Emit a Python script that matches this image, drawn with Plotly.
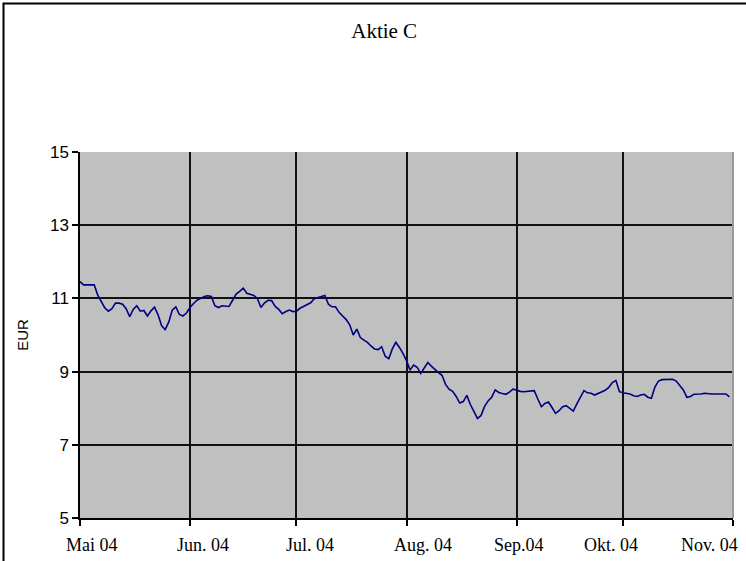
import pandas as pd
import plotly.graph_objects as go

# Daily closing prices of "Aktie C", 1 May - 31 Oct 2004 (EUR)
start_date = "2004-05-01"
price_may = [11.46, 11.37, 11.37, 11.37, 11.37, 11.09, 10.93, 10.74, 10.65, 10.72,
             10.87, 10.87, 10.84, 10.72, 10.50, 10.70, 10.80, 10.65, 10.67, 10.52,
             10.66, 10.76, 10.55, 10.25, 10.15, 10.35, 10.68, 10.77, 10.56, 10.52,
             10.60]
price_jun = [10.75, 10.86, 10.95, 11.00, 11.05, 11.07, 11.05, 10.80, 10.75, 10.80,
             10.80, 10.78, 10.95, 11.12, 11.19, 11.28, 11.14, 11.12, 11.08, 10.99,
             10.75, 10.88, 10.95, 10.94, 10.78, 10.70, 10.58, 10.64, 10.68, 10.64]
price_jul = [10.65, 10.73, 10.78, 10.83, 10.88, 10.99, 11.02, 11.05, 11.08, 10.84,
             10.77, 10.77, 10.62, 10.52, 10.42, 10.28, 10.00, 10.16, 9.93, 9.86,
             9.80, 9.70, 9.62, 9.60, 9.68, 9.42, 9.35, 9.62, 9.80, 9.66,
             9.50]
price_aug = [9.30, 9.04, 9.18, 9.12, 8.95, 9.12, 9.25, 9.15, 9.05, 8.97,
             8.90, 8.65, 8.52, 8.46, 8.32, 8.14, 8.18, 8.35, 8.10, 7.90,
             7.72, 7.80, 8.05, 8.20, 8.30, 8.50, 8.43, 8.40, 8.38, 8.44,
             8.52]
price_sep = [8.50, 8.46, 8.45, 8.46, 8.48, 8.48, 8.25, 8.04, 8.13, 8.17,
             8.02, 7.86, 7.93, 8.04, 8.07, 8.00, 7.92, 8.12, 8.32, 8.48,
             8.42, 8.41, 8.36, 8.40, 8.46, 8.49, 8.57, 8.70, 8.76, 8.45]
price_oct = [8.42, 8.40, 8.39, 8.34, 8.32, 8.36, 8.38, 8.30, 8.27, 8.58,
             8.74, 8.78, 8.79, 8.79, 8.79, 8.74, 8.62, 8.50, 8.30, 8.32,
             8.38, 8.38, 8.39, 8.41, 8.39, 8.39, 8.39, 8.39, 8.39, 8.39,
             8.31]

month_ticks = ["2004-05-01", "2004-06-01", "2004-07-01", "2004-08-01",
               "2004-09-01", "2004-10-01", "2004-11-01"]
month_labels = ["Mai 04", "Jun. 04", "Jul. 04", "Aug. 04", "Sep.04", "Okt. 04", "Nov. 04"]
y_ticks = [5, 7, 9, 11, 13, 15]

prices = price_may + price_jun + price_jul + price_aug + price_sep + price_oct
dates = pd.date_range(start_date, periods=len(prices), freq="D")

fig = go.Figure()
fig.add_trace(go.Scatter(
    x=dates, y=prices, mode="lines",
    line=dict(color="#000080", width=1.6),
    showlegend=False,
))

# month labels sit slightly off their tick marks, spreading to fit the width
label_shift = [12, 13, 14, 16, 2, -12, -24]
month_annotations = [
    dict(x=tick, y=0, xref="x", yref="paper", text=label,
         showarrow=False, xanchor="center", yanchor="top",
         xshift=shift, yshift=-15,
         font=dict(family="Liberation Serif", size=18, color="black"))
    for tick, label, shift in zip(month_ticks, month_labels, label_shift)
]

fig.update_layout(
    width=746, height=561,
    margin=dict(l=80, r=13, t=152, b=43),
    paper_bgcolor="white",
    plot_bgcolor="#C0C0C0",
    title=dict(
        text="Aktie C",
        x=0.515, xref="container", xanchor="center",
        y=1 - 31 / 561, yref="container", yanchor="middle",
        font=dict(family="Liberation Serif", size=21, color="black"),
    ),
    xaxis=dict(
        type="date",
        range=["2004-05-01", "2004-11-01"],
        tickmode="array", tickvals=month_ticks,
        showticklabels=False,
        ticks="outside", ticklen=6, tickwidth=1.5, tickcolor="black",
        automargin=False,
        showgrid=True, gridcolor="#111111", gridwidth=2,
        showline=True, linecolor="black", linewidth=1.5,
        zeroline=False,
    ),
    yaxis=dict(
        range=[5, 15],
        tickmode="array", tickvals=y_ticks,
        ticks="outside", ticklen=6, tickwidth=1.5, tickcolor="black",
        automargin=False,
        showgrid=True, gridcolor="#111111", gridwidth=2,
        showline=True, linecolor="black", linewidth=1.5,
        zeroline=False,
        title=dict(text="EUR", standoff=18,
                   font=dict(family="Liberation Sans", size=15, color="black")),
        tickfont=dict(family="Liberation Sans", size=17, color="black"),
    ),
    annotations=month_annotations,
    shapes=[
        # gray border on the right side of the plot area
        dict(type="line", xref="paper", yref="paper", x0=1, x1=1, y0=0, y1=1,
             line=dict(color="#9A9A9A", width=2), layer="above"),
        # outer chart frame
        dict(type="rect", xref="paper", yref="paper",
             x0=(3.5 - 80) / 653, x1=1.1, y0=-0.3, y1=(518 - 3.5) / 366,
             line=dict(color="black", width=2), fillcolor="rgba(0,0,0,0)"),
    ],
)

fig.write_html("out.html")
